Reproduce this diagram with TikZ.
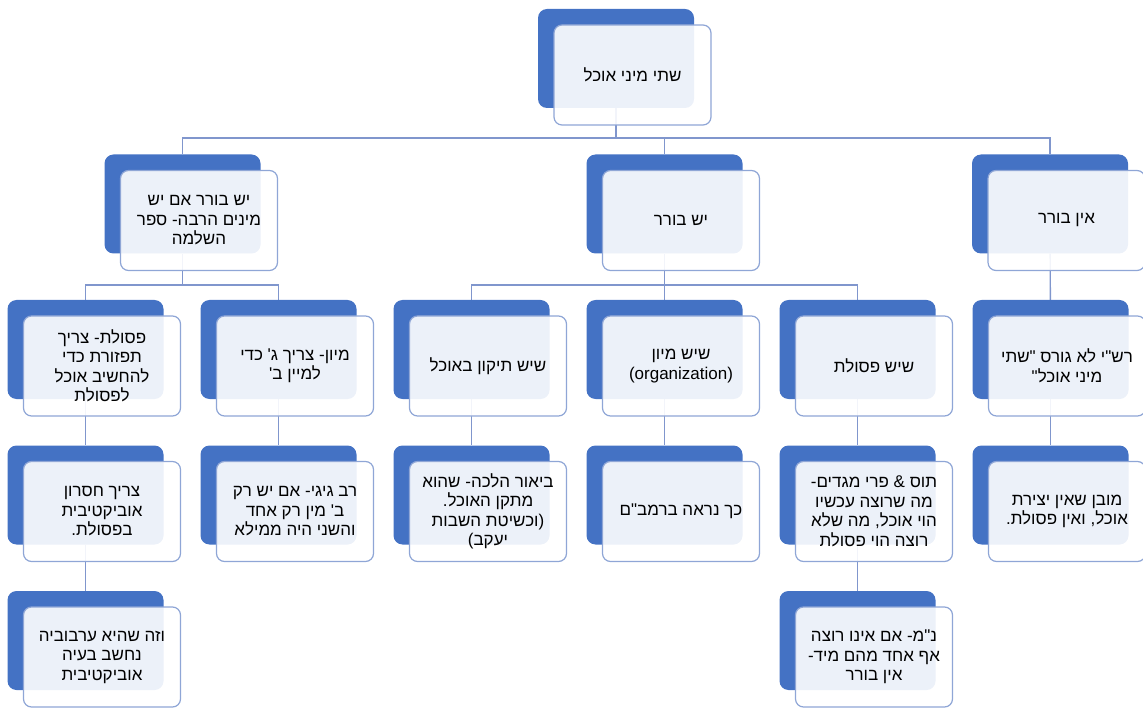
\documentclass[tikz,border=0pt]{standalone}
\usepackage{fontspec}
\setmainfont{Liberation Sans}
\newfontfamily\hebfont[Script=Hebrew]{Liberation Sans}
\TeXXeTstate=1
\usetikzlibrary{positioning, backgrounds}

\definecolor{cardblue}{RGB}{68,114,196}
\definecolor{cardedge}{RGB}{143,166,214}
\definecolor{linkblue}{RGB}{128,150,205}

\tikzset{
	card/.style={rectangle, rounded corners=9pt, fill=cardblue, minimum width=156pt, minimum height=99pt, inner sep=0pt},
	face/.style={rectangle, rounded corners=8pt, draw=cardedge, line width=1.2pt, fill=white, fill opacity=0.9, text opacity=1,
		minimum width=157pt, minimum height=100pt, inner sep=2pt, align=center, xshift=16.5pt, yshift=-16.5pt,
		font=\hebfont\fontsize{17}{19.5}\selectfont},
	link/.style={draw=linkblue, line width=1.4pt},
}

\begin{document}
\begin{tikzpicture}[x=1pt,y=1pt,node distance=145.5pt and 193pt,on grid]
	\useasboundingbox (0,0) rectangle (1143,-708);
	
	\node (borer) [card, label={[face]center:{\beginR יש בורר\endR}}] at (664.5,-204) {};
	\node (kinds) [card, above=of borer, xshift=-48.5pt, label={[face]center:{\beginR שתי מיני אוכל\endR}}] {};
	\node (many) [card, left=482pt of borer, label={[face]center:{\beginR יש בורר אם יש\endR\\\beginR מינים הרבה- ספר\endR\\\beginR השלמה\endR}}] {};
	\node (noborer) [card, right=385.5pt of borer, label={[face]center:{\beginR אין בורר\endR}}] {};
	
	\node (sorting) [card, below=of borer, label={[face]center:{\beginR שיש מיון\endR\\(organization)}}] {};
	\node (waste) [card, right=of sorting, label={[face]center:{\beginR שיש פסולת\endR}}] {};
	\node (rashi) [card, right=of waste, label={[face]center:{\beginR רש"י לא גורס "שתי\endR\\\beginR מיני אוכל"\endR}}] {};
	\node (fix) [card, left=of sorting, label={[face]center:{\beginR שיש תיקון באוכל\endR}}] {};
	\node (sortthree) [card, left=of fix, label={[face]center:{\beginR מיון- צריך ג' כדי\endR\\\beginR למיין ב'\endR}}] {};
	\node (scatter) [card, left=of sortthree, label={[face]center:{\beginR פסולת- צריך\endR\\\beginR תפזורת כדי\endR\\\beginR להחשיב אוכל\endR\\\beginR לפסולת\endR}}] {};
	
	\node (lack) [card, below=of scatter, label={[face]center:{\beginR צריך חסרון\endR\\\beginR אוביקטיבית\endR\\\beginR בפסולת.\endR}}] {};
	\node (gigi) [card, below=of sortthree, label={[face]center:{\beginR רב גיגי- אם יש רק\endR\\\beginR ב' מין רק אחד\endR\\\beginR והשני היה ממילא\endR}}] {};
	\node (biur) [card, below=of fix, label={[face]center:{\beginR ביאור הלכה- שהוא\endR\\\beginR מתקן האוכל.\endR\\\beginR וכשיטת השבות\endR(\\)\beginR יעקב\endR}}] {};
	\node (rambam) [card, below=of sorting, label={[face]center:{\beginR כך נראה ברמב"ם\endR}}] {};
	\node (tosafot) [card, below=of waste, label={[face]center:{\beginR תוס \& פרי מגדים-\endR\\\beginR מה שרוצה עכשיו\endR\\\beginR הוי אוכל, מה שלא\endR\\\beginR רוצה הוי פסולת\endR}}] {};
	\node (obvious) [card, below=of rashi, label={[face]center:{\beginR מובן שאין יצירת\endR\\\beginR אוכל, ואין פסולת.\endR}}] {};
	
	\node (mixture) [card, below=of lack, label={[face]center:{\beginR וזה שהיא ערבוביה\endR\\\beginR נחשב בעיה\endR\\\beginR אוביקטיבית\endR}}] {};
	\node (nm) [card, below=of tosafot, label={[face]center:{\beginR נ"מ- אם אינו רוצה\endR\\\beginR אף אחד מהם מיד-\endR\\\beginR אין בורר\endR}}] {};
	
	% connectors behind the cards
	\begin{scope}[on background layer]
		\draw [link] (kinds) -- ++(0,-79.5pt) coordinate (bus1) -| (many) (bus1) -| (borer) (bus1) -| (noborer);
		\draw [link] (borer) -- ++(0,-81pt) coordinate (bus2) -| (fix) (bus2) -| (sorting) (bus2) -| (waste);
		\draw [link] (many) -- ++(0,-81pt) coordinate (bus3) -| (scatter) (bus3) -| (sortthree);
		\draw [link] (noborer) -- (rashi);
		\draw [link] (scatter) -- (lack) (sortthree) -- (gigi) (fix) -- (biur)
			(sorting) -- (rambam) (waste) -- (tosafot) (rashi) -- (obvious);
		\draw [link] (lack) -- (mixture) (tosafot) -- (nm);
	\end{scope}
	
\end{tikzpicture}
\end{document}
